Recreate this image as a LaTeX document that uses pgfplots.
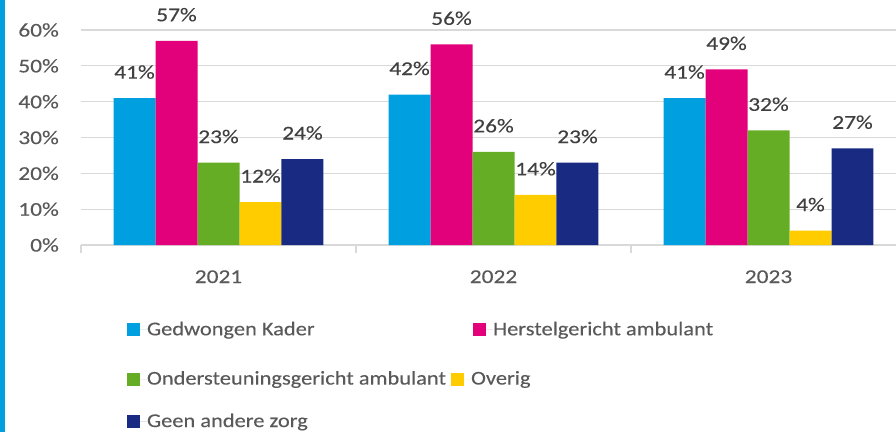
\documentclass[border=0pt]{standalone}
\usepackage{fontspec}
\setmainfont{Carlito}[FakeStretch=1.2, FakeBold=0.2]
\newfontfamily\legfont{Carlito}[FakeStretch=1.15, FakeBold=0.2]
\usepackage{pgfplots}
\pgfplotsset{compat=1.18}
\definecolor{cBlue}{HTML}{009FE0}
\definecolor{cPink}{HTML}{E3007B}
\definecolor{cGreen}{HTML}{66AD26}
\definecolor{cYellow}{HTML}{FFCC00}
\definecolor{cNavy}{HTML}{182A82}
\definecolor{cGrid}{HTML}{D9D9D9}
\definecolor{cText}{HTML}{595959}
\definecolor{cLabel}{HTML}{404040}
\newcommand{\cf}{\fontsize{19.5bp}{23bp}\selectfont}
\newcommand{\lf}{\legfont\fontsize{19.5bp}{23bp}\selectfont}
\pgfplotsset{
  sq legend/.style={legend image code/.code={\fill[##1] (0bp,-6.5bp) rectangle (13bp,6.5bp); \path (0bp,0bp) -- (20bp,0bp);}},
}
\begin{document}
\cf
\begin{tikzpicture}[x=1bp,y=1bp]
\fill[cBlue] (0,0) rectangle (4.5,432);
\begin{axis}[
  at={(81bp,187bp)}, anchor=south west,
  width=825bp, height=215bp, scale only axis,
  clip=false,
  xmin=-0.5, xmax=2.5, ymin=0, ymax=60,
  ybar=0pt, bar width=0.1527,
  xtick={-0.5,0.5,1.5,2.5}, xticklabels={},
  major tick length=8bp, tick align=outside,
  xtick style={draw=cGrid, line width=1.3bp},
  extra x ticks={0,1,2}, extra x tick labels={2021,2022,2023},
  extra x tick style={xtick style={draw=none}, major tick length=0pt},
  ytick={0,10,...,60},
  ytick style={draw=none},
  yticklabel={\pgfmathprintnumber{\tick}\%},
  ymajorgrids, grid style={cGrid, line width=1.3bp},
  axis x line*=bottom, axis y line*=left,
  y axis line style={draw=none},
  x axis line style={cGrid, line width=1.3bp},
  /pgf/number format/assume math mode=true,
  tick label style={font=\cf, text=cText, inner sep=0pt},
  yticklabel style={anchor=east, xshift=-14bp},
  xticklabel style={anchor=base, yshift=-38bp},
  nodes near coords={\pgfmathprintnumber{\pgfplotspointmeta}\%},
  nodes near coords style={anchor=base, inner sep=0pt, yshift=19.5bp, text=cLabel, font=\cf},
  legend columns=2,
  legend cell align=left,
  legend style={at={(0.05576,-0.3953)}, anchor=west, draw=none, fill=none, inner sep=0pt, outer sep=0pt,
    nodes={inner sep=0pt, text=cText, font=\lf}, column sep=0pt,
    /tikz/every even column/.append style={column sep=158.5bp}},
]
\addplot[draw=none, fill=cBlue, sq legend] coordinates {(0,41) (1,42) (2,41)};
\addlegendentry{Gedwongen Kader}
\addplot[draw=none, fill=cPink, sq legend] coordinates {(0,57) (1,56) (2,49)};
\addlegendentry{Herstelgericht ambulant}
\addplot[draw=none, fill=cGreen] coordinates {(0,23) (1,26) (2,32)};
\addplot[draw=none, fill=cYellow] coordinates {(0,12) (1,14) (2,4)};
\addplot[draw=none, fill=cNavy] coordinates {(0,24) (1,23) (2,27)};
\end{axis}
\begin{axis}[
  at={(81bp,187bp)}, anchor=south west,
  width=825bp, height=215bp, scale only axis,
  hide axis, xmin=0, xmax=1, ymin=0, ymax=1,
  legend columns=2,
  legend cell align=left,
  legend style={at={(0.05576,-0.7233)}, anchor=west, draw=none, fill=none, inner sep=0pt, outer sep=0pt,
    nodes={inner sep=0pt, text=cText, font=\lf}, column sep=0pt, row sep=26bp,
    /tikz/every even column/.append style={column sep=5bp}},
]
\addlegendimage{draw=none, fill=cGreen, sq legend}
\addlegendentry{Ondersteuningsgericht ambulant}
\addlegendimage{draw=none, fill=cYellow, sq legend}
\addlegendentry{Overig}
\addlegendimage{draw=none, fill=cNavy, sq legend}
\addlegendentry{Geen andere zorg}
\end{axis}
\pgfresetboundingbox
\useasboundingbox (0,0) rectangle (896,432);
\end{tikzpicture}
\end{document}
